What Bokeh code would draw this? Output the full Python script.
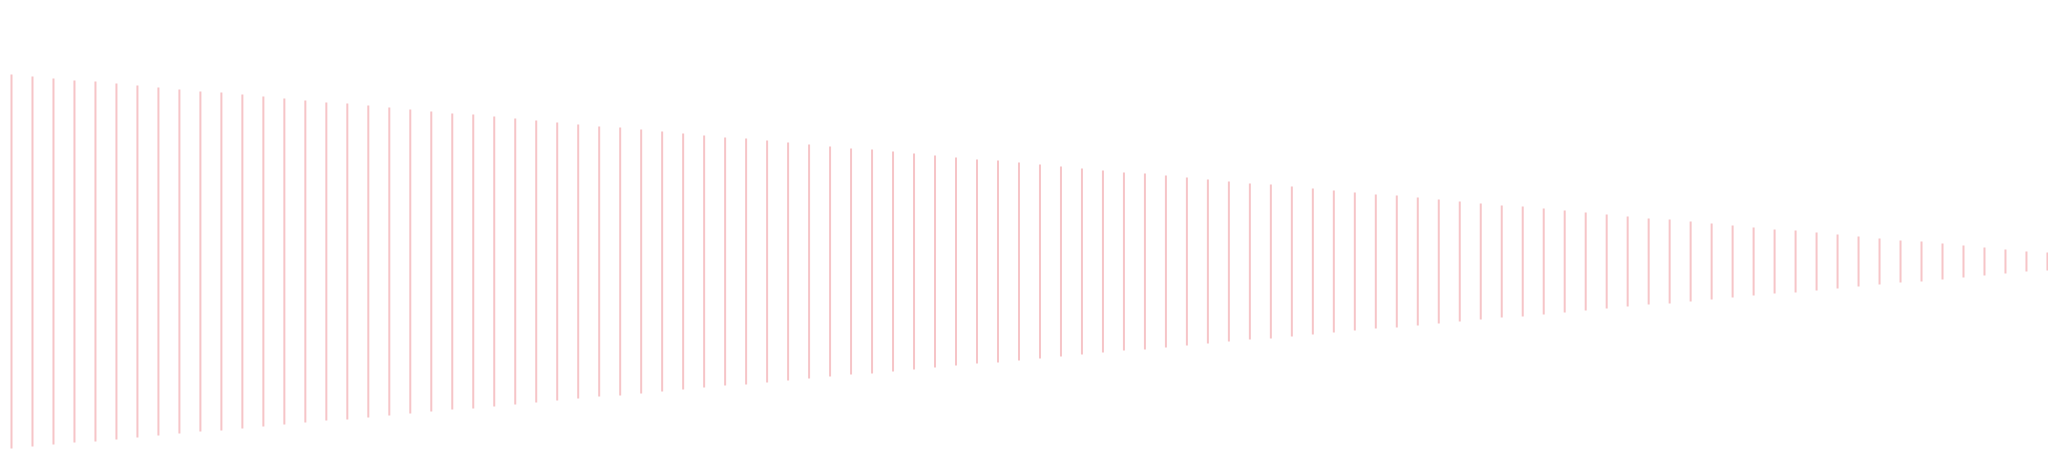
from bokeh.plotting import figure
from bokeh.models import Range1d, ColumnDataSource
from bokeh.embed import file_html
from bokeh.resources import INLINE

# half-length of each vertical segment (symmetric about zero)
amplitude = [187, 185, 183, 181, 180, 178, 176, 174, 172, 170,
             169, 167, 165, 163, 161, 159, 158, 156, 154, 152,
             150, 148, 147, 145, 143, 141, 139, 137, 135, 134,
             132, 130, 128, 126, 124, 123, 121, 119, 117, 115,
             113, 112, 110, 108, 106, 104, 102, 101, 99, 97,
             95, 93, 91, 89, 88, 86, 84, 82, 80, 78,
             77, 75, 73, 71, 69, 67, 66, 64, 62, 60,
             58, 56, 55, 53, 51, 49, 47, 45, 43, 42,
             40, 38, 36, 34, 32, 31, 29, 27, 25, 23,
             21, 20, 18, 16, 14, 12, 10, 9]
positions = list(range(len(amplitude)))

src = ColumnDataSource(data=dict(
    x=positions,
    y0=[-a for a in amplitude],
    y1=amplitude,
))

# Bokeh's page template sets body margin to 0, so the plot sits at (0, 0);
# 20.99 px per position, 1 px per value unit
p = figure(width=2048, height=460, output_backend="svg", toolbar_location=None,
           x_range=Range1d(-0.524, 97.05), y_range=Range1d(-199, 261),
           min_border=0)
p.axis.visible = False
p.grid.visible = False
p.outline_line_color = None
p.background_fill_color = "white"
p.border_fill_color = "white"

p.segment(x0="x", y0="y0", x1="x", y1="y1", source=src,
          line_color="#f6c4c7", line_width=2)

open("out.html", "w").write(file_html(p, INLINE))
